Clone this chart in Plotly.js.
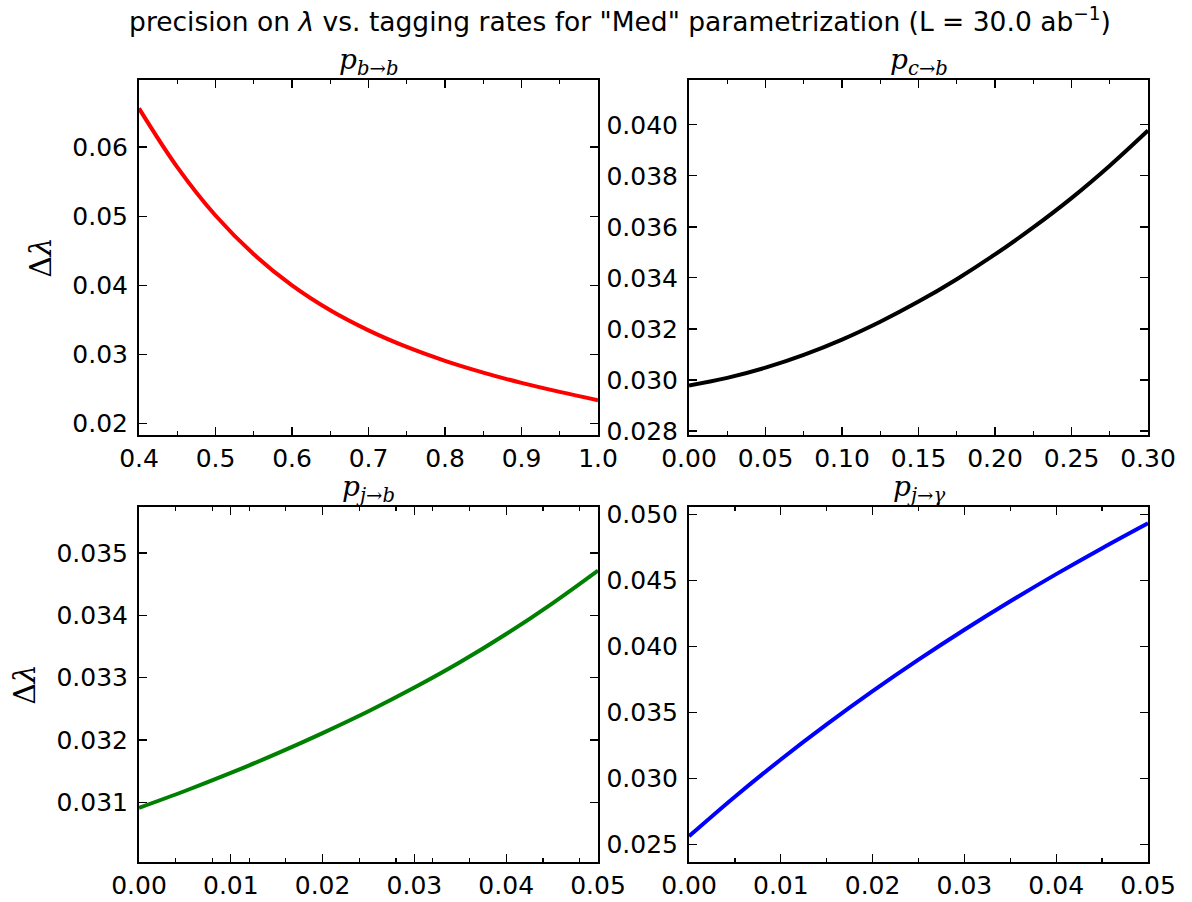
<!DOCTYPE html>
<html>
<head>
<meta charset="utf-8">
<script src="https://cdn.plot.ly/plotly-3.0.1.min.js"></script>
<style>html,body{margin:0;padding:0;background:#fff;}#chart{width:1192px;height:902px;}</style>
</head>
<body>
<div id="chart"></div>
<script>
// Panel 1: p_{b->b}
var xBB = [0.40, 0.45, 0.50, 0.55, 0.60, 0.65, 0.70, 0.75, 0.80, 0.85, 0.90, 0.95, 1.00];
var yBB = [0.0656, 0.0571, 0.0501, 0.0445, 0.0400, 0.0364, 0.0335, 0.0311, 0.0291, 0.0274, 0.0259, 0.0246, 0.0234];
// Panel 2: p_{c->b}
var xCB = [0.000, 0.025, 0.050, 0.075, 0.100, 0.125, 0.150, 0.175, 0.200, 0.225, 0.250, 0.275, 0.300];
var yCB = [0.02978, 0.03008, 0.03048, 0.03098, 0.03158, 0.03228, 0.03307, 0.03395, 0.03492, 0.03598, 0.03713, 0.03840, 0.03978];
// Panel 3: p_{j->b}
var xJB = [0.000, 0.005, 0.010, 0.015, 0.020, 0.025, 0.030, 0.035, 0.040, 0.045, 0.050];
var yJB = [0.03091, 0.03118, 0.03147, 0.03178, 0.03211, 0.03246, 0.03284, 0.03325, 0.03370, 0.03419, 0.03472];
// Panel 4: p_{j->gamma}
var xJG = [0.000, 0.005, 0.010, 0.015, 0.020, 0.025, 0.030, 0.035, 0.040, 0.045, 0.050];
var yJG = [0.02561, 0.02861, 0.03143, 0.03409, 0.03661, 0.03900, 0.04127, 0.04343, 0.04549, 0.04746, 0.04935];

var panelTitles = ['<i>p</i><sub><i>b</i>→<i>b</i></sub>', '<i>p</i><sub><i>c</i>→<i>b</i></sub>',
                   '<i>p</i><sub><i>j</i>→<i>b</i></sub>', '<i>p</i><sub><i>j</i>→<i>γ</i></sub>'];
var mainTitle = 'precision on <i>λ</i> vs. tagging rates for "Med" parametrization (L = 30.0 ab<sup>−1</sup>)';
var yLabel = 'Δ<i>λ</i>';

var W = 1192, H = 902;
var colX = [[139/W, 598/W], [689/W, 1148/W]];
var rowY = [[1-435/H, 1-80/H], [1-862/H, 1-507/H]];

function trace(x, y, color, xa, ya) {
  return {x: x, y: y, mode: 'lines', type: 'scatter', xaxis: xa, yaxis: ya,
          line: {color: color, width: 4, shape: 'spline', smoothing: 1}, hoverinfo: 'skip'};
}
var data = [
  trace(xBB, yBB, '#ff0000', 'x', 'y'),
  trace(xCB, yCB, '#000000', 'x2', 'y2'),
  trace(xJB, yJB, '#008000', 'x3', 'y3'),
  trace(xJG, yJG, '#0000ff', 'x4', 'y4')
];

var tickFont = {family: 'DejaVu Sans', size: 25, color: '#000'};
function xaxis(domain, range, dtick, fmt, minorDtick, anchor) {
  return {domain: domain, range: range, anchor: anchor, dtick: dtick, tick0: 0, tickformat: fmt,
          showgrid: false, zeroline: false, showline: true, linecolor: '#000', linewidth: 2,
          mirror: 'ticks', ticks: 'inside', ticklen: 8, tickwidth: 1.2, tickcolor: '#000',
          tickfont: tickFont, ticklabelstandoff: 0,
          minor: {dtick: minorDtick, tick0: 0, ticks: 'inside', ticklen: 4, tickwidth: 1.2, tickcolor: '#000', showgrid: false}};
}
function yaxis(domain, range, dtick, fmt, anchor, title) {
  var a = {domain: domain, range: range, anchor: anchor, dtick: dtick, tick0: 0, tickformat: fmt,
          showgrid: false, zeroline: false, showline: true, linecolor: '#000', linewidth: 2,
          mirror: 'ticks', ticks: 'inside', ticklen: 8, tickwidth: 1.2, tickcolor: '#000',
          tickfont: tickFont, ticklabelstandoff: 4};
  if (title) a.title = {text: title, font: {family: 'DejaVu Serif', size: 30, color: '#000'}, standoff: 12};
  return a;
}

function panelTitle(i, col, row) {
  return {text: panelTitles[i], x: (colX[col][0]+colX[col][1])/2, y: rowY[row][1], xref: 'paper', yref: 'paper',
          xanchor: 'center', yanchor: 'bottom', yshift: -2, showarrow: false,
          font: {family: 'DejaVu Serif', size: 28, color: '#000'}};
}

var layout = {
  width: W, height: H, margin: {l: 0, r: 0, t: 0, b: 0},
  paper_bgcolor: '#fff', plot_bgcolor: '#fff', showlegend: false,
  title: {text: mainTitle, font: {family: 'DejaVu Sans', size: 26.5, color: '#000'},
          x: 620/W, xanchor: 'center', y: 1 - 22/H, yanchor: 'middle'},
  xaxis: xaxis(colX[0], [0.4, 1.0], 0.1, '.1f', 0.05, 'y'),
  yaxis: yaxis(rowY[0], [0.01837, 0.0697], 0.01, '.2f', 'x', yLabel),
  xaxis2: xaxis(colX[1], [0, 0.30], 0.05, '.2f', 0.025, 'y2'),
  yaxis2: yaxis(rowY[0], [0.02784, 0.04176], 0.002, '.3f', 'x2', null),
  xaxis3: xaxis(colX[0], [0, 0.05], 0.01, '.2f', 0.004, 'y3'),
  yaxis3: yaxis(rowY[1], [0.03004, 0.03574], 0.001, '.3f', 'x3', yLabel),
  xaxis4: xaxis(colX[1], [0, 0.05], 0.01, '.2f', 0.005, 'y4'),
  yaxis4: yaxis(rowY[1], [0.02366, 0.05058], 0.005, '.3f', 'x4', null),
  annotations: [panelTitle(0, 0, 0), panelTitle(1, 1, 0), panelTitle(2, 0, 1), panelTitle(3, 1, 1)]
};

Plotly.newPlot('chart', data, layout, {staticPlot: true, displayModeBar: false});
</script>
</body>
</html>
